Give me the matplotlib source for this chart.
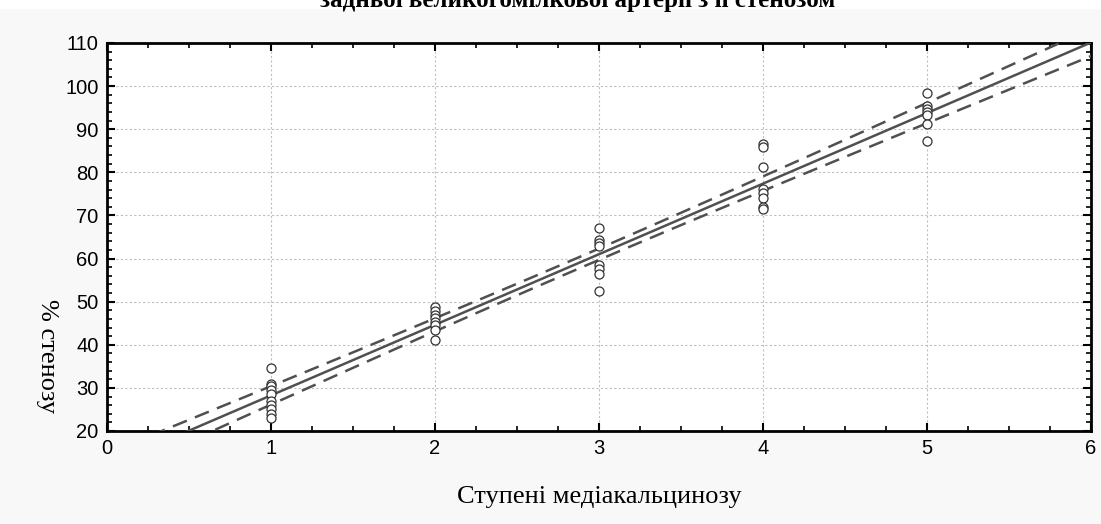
import numpy as np
import matplotlib
matplotlib.use("Agg")
import matplotlib.pyplot as plt
from matplotlib.patches import Rectangle
from matplotlib.ticker import MultipleLocator

# ступені медіакальцинозу та % стенозу
stage_1 = [34.5, 31.0, 30.5, 29.5, 28.5, 27.0, 26.0, 25.0, 24.0, 23.0]
stage_2 = [48.8, 47.9, 47.0, 46.3, 45.3, 44.6, 43.5, 41.1]
stage_3 = [67.0, 64.3, 63.5, 62.8, 58.5, 57.5, 56.4, 52.5]
stage_4 = [86.5, 85.8, 81.2, 76.2, 75.2, 74.0, 72.0, 71.4]
stage_5 = [98.5, 95.5, 94.8, 94.0, 93.3, 91.3, 87.3]
stages = [1, 2, 3, 4, 5]

title_text = "задньої великогомілкової артерії з її стенозом"
x_label = "Ступені медіакальцинозу"
y_label = "% стенозу"

groups = [stage_1, stage_2, stage_3, stage_4, stage_5]
x = np.concatenate([[s] * len(g) for s, g in zip(stages, groups)]).astype(float)
y = np.concatenate(groups)

# лінійна регресія та 95% довірчий інтервал
n = len(x)
b, a = np.polyfit(x, y, 1)
resid = y - (a + b * x)
s_err = np.sqrt(np.sum(resid ** 2) / (n - 2))
x_mean = x.mean()
sxx = np.sum((x - x_mean) ** 2)
t_val = 2.023
xx = np.linspace(0, 6, 300)
yy = a + b * xx
half = t_val * s_err * np.sqrt(1.0 / n + (xx - x_mean) ** 2 / sxx)

fig = plt.figure(figsize=(11.01, 5.24), dpi=100, facecolor="#f8f8f8")
fig.patches.append(Rectangle((0, 1 - 9 / 524), 1, 9 / 524, transform=fig.transFigure,
                             facecolor="white", edgecolor="none", zorder=0))
ax = fig.add_axes([107 / 1101, 1 - 431 / 524, (1091 - 107) / 1101, (431 - 43) / 524])
ax.set_facecolor("white")

line_col = "#505050"
ax.plot(xx, yy, color=line_col, lw=1.8, zorder=3)
ax.plot(xx, yy + half, color=line_col, lw=1.8, ls=(0, (6, 3.5)), zorder=3)
ax.plot(xx, yy - half, color=line_col, lw=1.8, ls=(0, (6, 3.5)), zorder=3)
ax.plot(x, y, "o", ms=6.5, mfc="white", mec="#333333", mew=0.9, zorder=4)

ax.set_xlim(0, 6)
ax.set_ylim(20, 110)
ax.xaxis.set_major_locator(MultipleLocator(1))
ax.xaxis.set_minor_locator(MultipleLocator(0.25))
ax.yaxis.set_major_locator(MultipleLocator(10))
ax.yaxis.set_minor_locator(MultipleLocator(2))
ax.grid(True, which="major", color="#c0c0c0", ls=(0, (2, 2)), lw=0.8)
ax.set_axisbelow(True)

for sp in ax.spines.values():
    sp.set_linewidth(2)
ax.tick_params(which="both", direction="in", top=True, right=True, color="black")
ax.tick_params(which="major", length=6, width=1.5, labelsize=14.5, pad=6)
ax.tick_params(which="minor", length=3.5, width=1.2)
for lab in ax.get_xticklabels() + ax.get_yticklabels():
    lab.set_fontfamily("Liberation Sans")

fig.text(599 / 1101, 1 - 497 / 524, x_label, ha="center", va="center",
         fontsize=19, family="Liberation Serif")
fig.text(47 / 1101, 1 - 356 / 524, y_label, ha="center", va="center",
         rotation=270, fontsize=19, family="Liberation Serif")
fig.text(578 / 1101, 1 - 7.5 / 524, title_text, ha="center", va="baseline",
         fontsize=18, fontweight="bold", family="Liberation Serif")

fig.savefig("out.png", dpi=100, facecolor=fig.get_facecolor())
